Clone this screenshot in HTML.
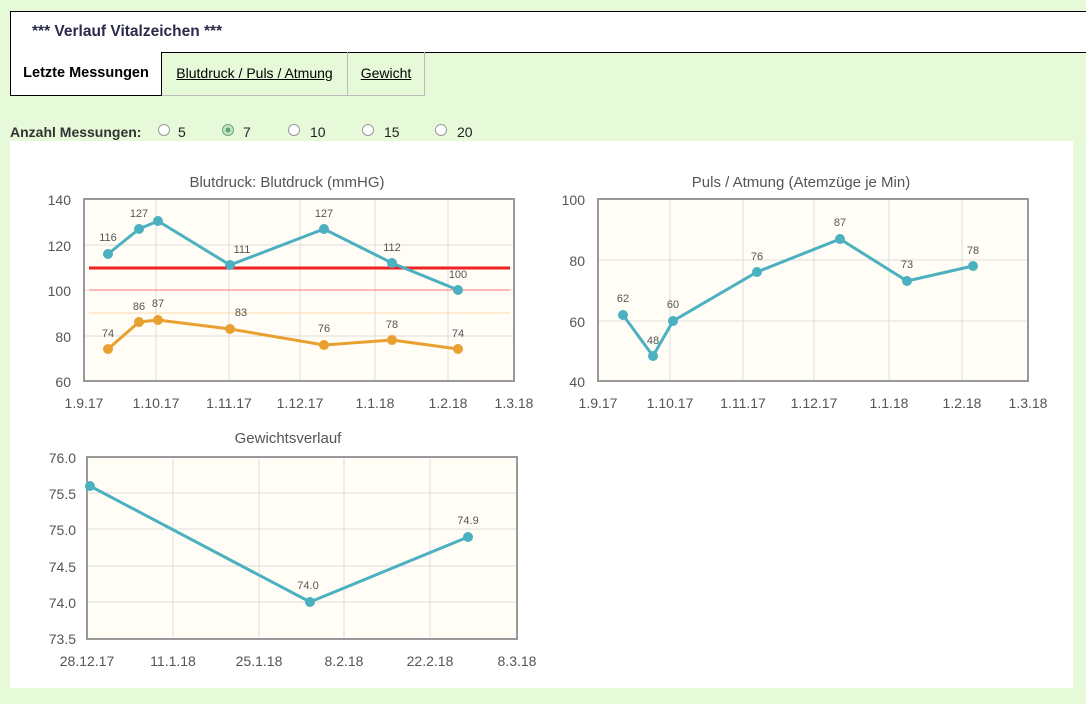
<!DOCTYPE html>
<html><head><meta charset="utf-8"><style>
body{margin:0;background:#e6f9d9;font-family:"Liberation Sans",sans-serif;width:1086px;height:704px;overflow:hidden;position:relative}
.hdr{position:absolute;left:10px;top:11px;width:1080px;height:40px;background:#fff;border:1px solid #000;border-right:none;}
.hdr span{position:absolute;left:21px;top:11px;font-weight:bold;font-size:15.5px;color:#2a2a4a}
.tab{position:absolute;top:52px;height:44px;font-size:14px;line-height:43px;text-align:center;box-sizing:border-box}
.t1{left:10px;width:152px;background:#fff;border:1px solid #000;border-top:none;font-weight:bold;color:#000;font-size:14.5px}
.t2{left:162px;width:186px;border-right:1px solid #bbb;border-bottom:1px solid #bbb;text-decoration:underline}
.t3{left:348px;width:77px;border-right:1px solid #bbb;border-bottom:1px solid #bbb;text-decoration:underline}
.radio{position:absolute;top:124px;left:10px;font-size:14px;color:#222}
.panel{position:absolute;left:10px;top:141px;width:1063px;height:547px;background:#fff}
</style></head><body>
<div class="hdr"><span>*** Verlauf Vitalzeichen ***</span></div>
<div class="tab t1">Letzte Messungen</div>
<div class="tab t2">Blutdruck / Puls / Atmung</div>
<div class="tab t3">Gewicht</div>
<div class="radio"><b style="color:#333">Anzahl Messungen:</b></div>
<svg style="position:absolute;left:0;top:0" width="1086" height="704" font-family="Liberation Sans, sans-serif">
<g fill="#fff" stroke="#999"><circle cx="164" cy="130" r="5.5"/><circle cx="228" cy="130" r="5.5" fill="#cfe3c0" stroke="#6a8"/><circle cx="294" cy="130" r="5.5"/><circle cx="368" cy="130" r="5.5"/><circle cx="441" cy="130" r="5.5"/></g>
<circle cx="228" cy="130" r="2.5" fill="#5a7"/>
<g font-size="14" fill="#222"><text x="178" y="137">5</text><text x="243" y="137">7</text><text x="310" y="137">10</text><text x="384" y="137">15</text><text x="457" y="137">20</text></g>
</svg>
<div class="panel"></div>
<svg style="position:absolute;left:0;top:0" width="1086" height="704" font-family="Liberation Sans, sans-serif">
<!-- chart1 -->
<rect x="84" y="199" width="430" height="182" fill="#fffdf5"/>
<g stroke="#ddd"><line x1="84" x2="514" y1="245" y2="245"/><line x1="84" x2="514" y1="290" y2="290"/><line x1="84" x2="514" y1="336" y2="336"/>
<line x1="156" x2="156" y1="199" y2="381"/><line x1="229" x2="229" y1="199" y2="381"/><line x1="300" x2="300" y1="199" y2="381"/><line x1="375" x2="375" y1="199" y2="381"/><line x1="448" x2="448" y1="199" y2="381"/></g>
<line x1="89" x2="510" y1="268" y2="268" stroke="#e22" stroke-width="3"/>
<line x1="89" x2="510" y1="290" y2="290" stroke="#f77" stroke-width="1"/>
<line x1="89" x2="510" y1="313" y2="313" stroke="#fcd9b0" stroke-width="1"/>
<rect x="84" y="199" width="430" height="182" fill="none" stroke="#999" stroke-width="2"/>
<g fill="#555" font-size="14" text-anchor="end"><text x="71" y="205">140</text><text x="71" y="251">120</text><text x="71" y="296">100</text><text x="71" y="342">80</text><text x="71" y="387">60</text></g>
<g fill="#555" font-size="14" text-anchor="middle"><text x="84" y="408">1.9.17</text><text x="156" y="408">1.10.17</text><text x="229" y="408">1.11.17</text><text x="300" y="408">1.12.17</text><text x="375" y="408">1.1.18</text><text x="448" y="408">1.2.18</text><text x="514" y="408">1.3.18</text></g>
<text x="287" y="187" font-size="15" fill="#555" text-anchor="middle">Blutdruck: Blutdruck (mmHG)</text>
<polyline points="108,254 139,229 158,221 230,265 324,229 392,263 458,290" fill="none" stroke="#4bb0c0" stroke-width="3"/>
<g fill="#4bb0c0"><circle cx="108" cy="254" r="5"/><circle cx="139" cy="229" r="5"/><circle cx="158" cy="221" r="5"/><circle cx="230" cy="265" r="5"/><circle cx="324" cy="229" r="5"/><circle cx="392" cy="263" r="5"/><circle cx="458" cy="290" r="5"/></g>
<polyline points="108,349 139,322 158,320 230,329 324,345 392,340 458,349" fill="none" stroke="#e8a030" stroke-width="3"/>
<g fill="#e8a030"><circle cx="108" cy="349" r="5"/><circle cx="139" cy="322" r="5"/><circle cx="158" cy="320" r="5"/><circle cx="230" cy="329" r="5"/><circle cx="324" cy="345" r="5"/><circle cx="392" cy="340" r="5"/><circle cx="458" cy="349" r="5"/></g>
<g fill="#555" font-size="11" text-anchor="middle"><text x="108" y="241">116</text><text x="139" y="217">127</text><text x="242" y="253">111</text><text x="324" y="217">127</text><text x="392" y="251">112</text><text x="458" y="278">100</text>
<text x="108" y="337">74</text><text x="139" y="310">86</text><text x="158" y="307">87</text><text x="241" y="316">83</text><text x="324" y="332">76</text><text x="392" y="328">78</text><text x="458" y="337">74</text></g>
<!-- chart2 -->
<rect x="598" y="199" width="430" height="182" fill="#fffdf5"/>
<g stroke="#ddd"><line x1="598" x2="1028" y1="260" y2="260"/><line x1="598" x2="1028" y1="321" y2="321"/>
<line x1="670" x2="670" y1="199" y2="381"/><line x1="743" x2="743" y1="199" y2="381"/><line x1="814" x2="814" y1="199" y2="381"/><line x1="889" x2="889" y1="199" y2="381"/><line x1="962" x2="962" y1="199" y2="381"/></g>
<rect x="598" y="199" width="430" height="182" fill="none" stroke="#999" stroke-width="2"/>
<g fill="#555" font-size="14" text-anchor="end"><text x="585" y="205">100</text><text x="585" y="266">80</text><text x="585" y="327">60</text><text x="585" y="387">40</text></g>
<g fill="#555" font-size="14" text-anchor="middle"><text x="598" y="408">1.9.17</text><text x="670" y="408">1.10.17</text><text x="743" y="408">1.11.17</text><text x="814" y="408">1.12.17</text><text x="889" y="408">1.1.18</text><text x="962" y="408">1.2.18</text><text x="1028" y="408">1.3.18</text></g>
<text x="801" y="187" font-size="15" fill="#555" text-anchor="middle">Puls / Atmung (Atemzüge je Min)</text>
<polyline points="623,315 653,356 673,321 757,272 840,239 907,281 973,266" fill="none" stroke="#4bb0c0" stroke-width="3"/>
<g fill="#4bb0c0"><circle cx="623" cy="315" r="5"/><circle cx="653" cy="356" r="5"/><circle cx="673" cy="321" r="5"/><circle cx="757" cy="272" r="5"/><circle cx="840" cy="239" r="5"/><circle cx="907" cy="281" r="5"/><circle cx="973" cy="266" r="5"/></g>
<g fill="#555" font-size="11" text-anchor="middle"><text x="623" y="302">62</text><text x="653" y="344">48</text><text x="673" y="308">60</text><text x="757" y="260">76</text><text x="840" y="226">87</text><text x="907" y="268">73</text><text x="973" y="254">78</text></g>
<!-- chart3 -->
<rect x="87" y="457" width="430" height="182" fill="#fffdf5"/>
<g stroke="#ddd"><line x1="87" x2="517" y1="493" y2="493"/><line x1="87" x2="517" y1="529" y2="529"/><line x1="87" x2="517" y1="566" y2="566"/><line x1="87" x2="517" y1="602" y2="602"/>
<line x1="173" x2="173" y1="457" y2="639"/><line x1="259" x2="259" y1="457" y2="639"/><line x1="344" x2="344" y1="457" y2="639"/><line x1="430" x2="430" y1="457" y2="639"/></g>
<rect x="87" y="457" width="430" height="182" fill="none" stroke="#999" stroke-width="2"/>
<g fill="#555" font-size="14" text-anchor="end"><text x="76" y="463">76.0</text><text x="76" y="499">75.5</text><text x="76" y="535">75.0</text><text x="76" y="572">74.5</text><text x="76" y="608">74.0</text><text x="76" y="644">73.5</text></g>
<g fill="#555" font-size="14" text-anchor="middle"><text x="87" y="666">28.12.17</text><text x="173" y="666">11.1.18</text><text x="259" y="666">25.1.18</text><text x="344" y="666">8.2.18</text><text x="430" y="666">22.2.18</text><text x="517" y="666">8.3.18</text></g>
<text x="288" y="443" font-size="15" fill="#555" text-anchor="middle">Gewichtsverlauf</text>
<polyline points="90,486 310,602 468,537" fill="none" stroke="#4bb0c0" stroke-width="3"/>
<g fill="#4bb0c0"><circle cx="90" cy="486" r="5"/><circle cx="310" cy="602" r="5"/><circle cx="468" cy="537" r="5"/></g>
<g fill="#555" font-size="11" text-anchor="middle"><text x="308" y="589">74.0</text><text x="468" y="524">74.9</text></g>
</svg>
</body></html>
